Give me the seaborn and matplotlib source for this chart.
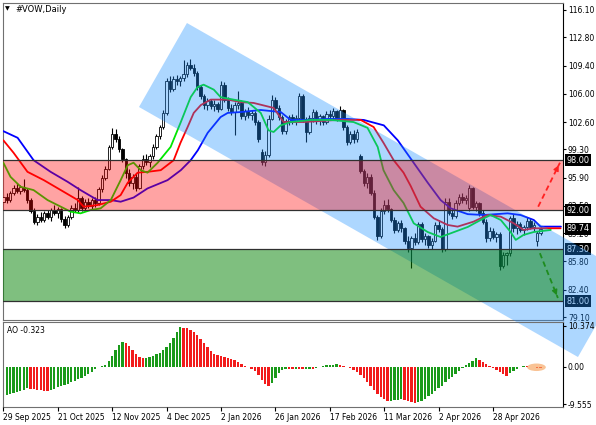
import numpy as np
import pandas as pd
import matplotlib
matplotlib.use("Agg")
import matplotlib.pyplot as plt
from matplotlib.patches import Polygon, Ellipse
import seaborn as sns

# ---------------- data ----------------
opens = [93.0, 93.6, 93.2, 94.1, 94.7, 94.3, 94.8, 94.4, 93.2, 91.9,
         90.6, 91.2, 90.8, 91.6, 91.1, 92.0, 91.7, 92.1, 90.9, 90.2,
         91.1, 92.3, 92.0, 93.4, 92.2, 93.0, 92.5, 93.2, 92.8, 94.5,
         95.9, 97.0, 99.6, 101.2, 100.6, 99.3, 98.1, 96.4, 95.3, 96.0,
         94.7, 97.3, 98.2, 97.8, 98.5, 99.6, 100.9, 102.0, 103.7, 107.5,
         106.6, 107.8, 107.5, 107.9, 108.4, 109.5, 109.1, 108.5, 106.8, 105.7,
         104.6, 105.1, 104.5, 104.8, 104.2, 107.1, 105.3, 104.3, 103.8, 104.6,
         104.9, 103.3, 103.9, 103.4, 103.7, 102.6, 99.0, 97.8, 98.6, 103.0,
         105.3, 104.3, 103.2, 101.5, 102.7, 103.2, 102.7, 103.1, 105.7, 102.9,
         101.4, 103.1, 103.8, 102.8, 103.3, 102.6, 103.6, 103.3, 103.9, 103.0,
         104.0, 102.0, 100.2, 101.2, 100.5, 98.5, 96.7, 95.2, 96.0, 94.1,
         91.2, 88.9, 91.9, 92.6, 92.1, 90.8, 89.6, 90.4, 89.8, 88.3,
         87.4, 88.6, 88.1, 90.3, 88.5, 88.9, 87.8, 88.3, 90.2, 89.7,
         87.3, 93.0, 91.7, 91.3, 92.9, 93.6, 93.2, 92.2, 94.6, 92.4,
         92.8, 91.6, 90.6, 88.6, 89.5, 88.8, 89.1, 85.3, 86.6, 86.8,
         91.0, 89.8, 90.3, 89.6, 89.9, 90.7, 90.0, 88.3, 89.2]
highs = [93.9, 94.0, 94.3, 95.0, 95.2, 95.0, 95.7, 94.6, 93.5, 92.3,
         91.5, 91.8, 91.9, 92.0, 92.3, 92.6, 92.4, 92.3, 91.3, 91.4,
         92.6, 92.9, 94.8, 93.7, 93.3, 93.4, 93.5, 93.6, 94.8, 96.2,
         97.3, 99.8, 101.9, 101.8, 100.9, 99.5, 98.3, 96.9, 96.3, 96.5,
         97.6, 98.6, 98.8, 98.7, 99.9, 101.2, 102.3, 104.0, 107.9, 108.2,
         108.1, 108.3, 108.1, 110.1, 109.8, 110.2, 109.6, 108.7, 107.1, 106.0,
         105.5, 105.4, 105.3, 105.0, 107.6, 107.4, 105.6, 104.8, 105.0, 106.3,
         105.2, 104.2, 104.4, 104.0, 103.9, 102.8, 99.3, 99.1, 103.4, 105.8,
         105.6, 104.6, 103.4, 103.0, 103.5, 103.6, 103.5, 106.1, 106.0, 103.2,
         103.4, 104.2, 104.0, 103.6, 103.5, 103.9, 104.1, 104.3, 104.1, 104.5,
         104.2, 102.3, 101.5, 101.6, 101.8, 98.8, 96.9, 96.4, 96.3, 94.4,
         91.4, 92.2, 93.2, 93.3, 92.3, 91.1, 90.7, 90.8, 90.0, 88.9,
         88.9, 89.2, 90.6, 90.5, 89.2, 89.0, 88.6, 90.6, 90.8, 89.9,
         93.5, 93.4, 92.1, 93.2, 93.9, 94.0, 93.8, 95.0, 94.8, 93.1,
         93.0, 92.0, 90.9, 89.9, 89.8, 89.4, 89.3, 86.9, 87.0, 91.3,
         91.5, 90.7, 90.6, 90.2, 91.1, 91.0, 90.5, 89.5, 90.0]
lows = [92.7, 92.9, 93.0, 93.8, 94.0, 93.9, 94.2, 92.9, 91.6, 90.3,
        90.2, 90.5, 90.6, 90.9, 90.7, 91.4, 91.0, 90.6, 89.8, 89.9,
        90.9, 91.8, 91.7, 91.9, 91.9, 92.3, 92.1, 92.4, 92.6, 94.2,
        95.6, 96.8, 99.3, 100.2, 99.0, 97.8, 95.9, 94.9, 94.5, 94.3,
        94.5, 96.9, 97.4, 97.2, 98.1, 99.3, 100.5, 101.8, 103.5, 106.2,
        106.3, 107.1, 107.0, 107.6, 108.0, 108.9, 108.2, 106.5, 105.4, 104.2,
        104.1, 104.2, 103.9, 103.8, 104.0, 105.0, 103.9, 103.4, 101.0, 104.2,
        103.0, 102.9, 103.1, 102.8, 102.3, 100.2, 97.4, 97.3, 98.4, 102.8,
        104.0, 102.9, 101.1, 101.2, 102.2, 102.4, 102.3, 102.8, 102.6, 100.2,
        101.2, 102.6, 102.4, 102.3, 102.2, 102.4, 103.0, 102.9, 102.7, 102.8,
        101.7, 99.8, 99.9, 100.1, 100.2, 96.4, 94.9, 94.6, 93.8, 90.9,
        88.4, 88.6, 91.5, 91.8, 90.5, 89.2, 89.3, 89.4, 87.9, 87.0,
        85.0, 87.8, 87.9, 88.2, 87.8, 87.4, 87.3, 88.1, 89.3, 86.9,
        87.1, 91.4, 90.9, 91.0, 92.6, 92.9, 92.7, 91.9, 92.1, 91.9,
        91.3, 90.3, 88.2, 88.3, 88.5, 88.1, 84.8, 85.0, 85.4, 86.5,
        89.4, 89.1, 89.3, 89.0, 89.6, 89.7, 89.5, 87.7, 89.0]
closes = [93.6, 93.2, 94.1, 94.7, 94.3, 94.8, 94.4, 93.2, 91.9, 90.6,
          91.2, 90.8, 91.6, 91.1, 92.0, 91.7, 92.1, 90.9, 90.2, 91.1,
          92.3, 92.0, 93.4, 92.2, 93.0, 92.5, 93.2, 92.8, 94.5, 95.9,
          97.0, 99.6, 101.2, 100.6, 99.3, 98.1, 96.4, 95.3, 96.0, 94.7,
          97.3, 98.2, 97.8, 98.5, 99.6, 100.9, 102.0, 103.7, 107.5, 106.6,
          107.8, 107.5, 107.9, 108.4, 109.5, 109.1, 108.5, 106.8, 105.7, 104.6,
          105.1, 104.5, 104.8, 104.2, 107.1, 105.3, 104.3, 103.8, 104.6, 104.9,
          103.3, 103.9, 103.4, 103.7, 102.6, 100.5, 97.8, 98.6, 103.0, 105.3,
          104.3, 103.2, 101.5, 102.7, 103.2, 102.7, 103.1, 105.7, 102.9, 101.4,
          103.1, 103.8, 102.8, 103.3, 102.6, 103.6, 103.3, 103.9, 103.0, 104.0,
          102.0, 100.2, 101.2, 100.5, 101.4, 96.7, 95.2, 96.0, 94.1, 91.2,
          88.9, 91.9, 92.6, 92.1, 90.8, 89.6, 90.4, 89.8, 88.3, 87.4,
          88.6, 88.1, 90.3, 88.5, 88.9, 87.8, 88.3, 90.2, 89.7, 87.3,
          93.0, 91.7, 91.3, 92.9, 93.6, 93.2, 93.5, 94.6, 92.4, 92.8,
          91.6, 90.6, 88.6, 89.5, 88.8, 89.1, 85.3, 86.6, 86.8, 91.0,
          89.8, 90.3, 89.6, 89.9, 90.7, 90.0, 90.2, 89.2, 89.74]

# Alligator lines: bar position, price
jaw_x = [0, 4.2, 8.9, 13.9, 18.9, 22.7, 27.7, 31.6, 34.5, 38.3, 42.4, 48.3, 52.2, 55.1,
         57.2, 60.1, 63.9, 66.0, 69.8, 75.7, 81.6, 84.5, 88.3, 95.4, 101.3, 106.0,
         111.9, 116.0, 119.8, 124.8, 128.6, 131.6, 136.6, 141.3, 148.3, 152.1, 156.0,
         158.0, 164.0]
jaw_y = [101.5, 100.7, 98.0, 96.6, 95.4, 94.4, 93.2, 93.2, 93.0, 93.5, 94.6, 95.6, 96.8, 98.0,
         99.2, 101.3, 103.2, 103.7, 103.8, 104.05, 103.8, 102.85, 102.85, 102.97, 102.97, 102.85,
         102.2, 100.4, 98.2, 95.3, 93.2, 92.2, 91.5, 91.4, 91.6, 91.4, 90.8,
         90.0, 90.0]
teeth_x = [0, 3.0, 7.1, 11.9, 16.9, 21.9, 23.6, 27.7, 31.6, 34.5, 36.6, 39.5, 42.4, 46.3,
           50.1, 52.1, 54.2, 56.0, 58.1, 61.0, 66.0, 69.8, 73.6, 79.5, 82.4, 88.3, 98.3,
           105.1, 108.9, 111.8, 114.8, 117.7, 119.8, 122.7, 126.6, 130.7, 133.6, 138.3,
           142.4, 146.3, 150.1, 153.0, 156.0, 163.9]
teeth_y = [100.4, 98.9, 96.6, 95.6, 94.4, 93.2, 92.4, 92.6, 93.0, 93.8, 95.3, 96.5, 96.6, 96.8,
           98.0, 100.1, 102.0, 103.7, 104.65, 105.3, 105.3, 105.0, 104.9, 104.3, 102.6, 102.6, 102.85,
           102.85, 102.0, 100.1, 98.0, 96.5, 94.9, 92.4, 91.0, 90.2, 90.0, 90.6,
           91.4, 91.2, 90.4, 89.6, 89.8, 89.8]
lips_x = [0, 2.1, 5.1, 8.9, 13.0, 16.9, 19.8, 22.7, 25.7, 28.6, 31.6, 34.5, 36.6, 38.3,
          40.4, 42.4, 45.4, 49.2, 52.1, 55.1, 57.1, 58.9, 61.9, 63.9, 67.7, 71.9, 75.7,
          78.0, 79.5, 81.6, 84.5, 90.4, 96.3, 103.0, 107.1, 110.1, 111.8, 114.8, 117.7,
          120.7, 124.8, 128.6, 131.6, 136.6, 140.4, 143.3, 146.3, 149.2, 150.7, 153.0,
          156.0, 161.0]
lips_y = [97.7, 96.0, 94.8, 94.4, 93.2, 92.4, 91.8, 91.6, 92.0, 92.2, 93.2, 95.6, 97.4, 97.7,
          96.8, 96.5, 97.7, 99.6, 102.5, 105.6, 106.8, 107.1, 106.5, 105.6, 105.3, 105.0, 103.7,
          101.6, 101.4, 102.2, 102.6, 102.85, 102.85, 102.6, 101.9, 99.6, 96.8, 94.4, 92.85,
          90.4, 89.35, 88.75, 89.2, 89.96, 90.8, 91.4, 90.8, 89.35, 88.4, 89.0,
          89.35, 89.6]

ao_values = [-7.2, -7.1, -6.9, -6.7, -6.5, -6.2, -5.8, -5.5,
             -5.6, -5.7, -5.8, -6.0, -6.1, -6.2,
             -5.9, -5.6, -5.2, -4.9, -4.6, -4.3, -4.0, -3.6, -3.2, -2.8, -2.4, -1.9, -1.3, -0.7, -0.2, 0.2, 0.5,
             1.4, 2.8, 4.2, 5.4, 6.2,
             6.0, 5.2, 4.1, 3.2, 2.5, 2.2,
             2.3, 2.5, 2.8, 3.1, 3.5, 4.1, 4.9, 5.9, 7.3, 8.7, 10.0,
             9.9, 9.7, 9.3, 8.7, 7.9, 7.0, 6.0, 5.0, 4.0, 3.3, 2.9, 2.7, 2.5, 2.3, 2.0, 1.6, 1.1, 0.6, 0.2,
             -0.2, -0.5, -1.2, -2.2, -3.4, -4.4, -4.9,
             -4.1, -2.9, -1.7, -0.8,
             -0.5, -0.6, -0.7, -0.5, -0.6,
             -0.7, -0.6, -0.5, -0.6, -0.4, -0.2,
             0.1, 0.3, 0.4, 0.5, 0.6, 0.5, 0.2,
             -0.1, -0.4, -0.8, -1.3, -2.0, -2.9, -3.9, -5.0, -6.0, -6.9, -7.7, -8.3, -8.7,
             -8.6, -8.5, -8.4, -8.3,
             -8.5, -8.8, -9.0, -9.2,
             -9.0, -8.6, -8.1, -7.5, -6.9, -6.2, -5.5, -4.8, -4.0, -3.2, -2.5, -1.8, -1.1, -0.4,
             0.3, 0.9, 1.5, 2.1,
             1.8, 1.2, 0.6, 0.1,
             -0.4, -0.9, -1.4, -1.9, -2.4,
             -1.7, -1.0, -0.5, -0.1,
             0.2, 0.1,
             -0.1, -0.2, -0.3, -0.323]

price_ticks = [116.10, 112.80, 109.40, 106.00, 102.60, 99.30, 95.90, 92.50, 89.20, 85.80, 82.40, 79.10]
date_tick_pos = [0, 16, 32, 48, 64, 80, 96, 112, 128, 144]
date_labels = ["29 Sep 2025", "21 Oct 2025", "12 Nov 2025", "4 Dec 2025", "2 Jan 2026",
               "26 Jan 2026", "17 Feb 2026", "11 Mar 2026", "2 Apr 2026", "28 Apr 2026"]
level_upper_zone = (92.00, 98.00)
level_lower_zone = (81.00, 87.30)
current_price = 89.74
ao_ticks = [10.374, 0.00, -9.555]
ao_tick_labels = ["10.374", "0.00", "-9.555"]
# channel corners (bar position, price)
channel_x = [39.9, 54.0, 183.1, 169.0]
channel_y = [104.41, 114.53, 84.41, 74.29]
# scenario arrows (bar position, price)
up_arrow = [(157.3, 92.4), (163.7, 97.7)]
down_arrow = [(157.8, 86.8), (163.1, 81.4)]

# ---------------- style ----------------
sns.set_theme(style="white")
plt.rcParams["font.family"] = ["DejaVu Sans"]
plt.rcParams["axes.axisbelow"] = False
FS = 5.5

W, H = 596, 425
fig = plt.figure(figsize=(W / 100, H / 100), dpi=100, facecolor="white")

def fx(px):
    return px / W

def fy(py):
    return 1 - py / H

ax = fig.add_axes([fx(3), fy(320), fx(560), (320 - 3) / H])
ax_ao = fig.add_axes([fx(3), fy(407), fx(560), (407 - 322) / H])
ax_ao.set_facecolor("none")
ax.set_facecolor("white")

n = len(closes)
idx = np.arange(n)
o = np.array(opens); c = np.array(closes); hi = np.array(highs); lo = np.array(lows)
up = c >= o

# candles
ax.vlines(idx, lo, hi, color="black", lw=0.8, zorder=2)
body_bottom = np.minimum(o, c)
body_h = np.maximum(np.abs(c - o), 0.12)
ax.bar(idx, body_h, bottom=body_bottom, width=0.7,
       color=np.where(up, "white", "black"), edgecolor="black", linewidth=0.6, zorder=3)

# alligator lines
for xs, ys, col in [(jaw_x, jaw_y, "#0000FF"), (teeth_x, teeth_y, "#FF0000"), (lips_x, lips_y, "#00E600")]:
    df = pd.DataFrame({"bar": xs, "price": ys})
    sns.lineplot(data=df, x="bar", y="price", ax=ax, color=col, lw=1.3, zorder=3.5,
                 legend=False, sort=False)

# channel
chan = Polygon(list(zip(channel_x, channel_y)), closed=True, facecolor="#1E90FF",
               alpha=0.36, edgecolor="none", zorder=4, clip_on=False)
ax.add_patch(chan)

# zones
ax.axhspan(*level_upper_zone, color="#FF0000", alpha=0.36, lw=0, zorder=5)
ax.axhspan(*level_lower_zone, color="#008000", alpha=0.5, lw=0, zorder=5)
for lv in [level_upper_zone[1], level_upper_zone[0], level_lower_zone[1], level_lower_zone[0]]:
    ax.axhline(lv, color="#303030", lw=0.9, zorder=6)

# arrows
for (p0, p1), col in [(up_arrow, "#FF2020"), (down_arrow, "#1E8C1E")]:
    ax.plot([p0[0], p1[0]], [p0[1], p1[1]], color=col, lw=1.3, ls=(0, (3, 2)),
            zorder=7, clip_on=False)
    dx, dy = p1[0] - p0[0], p1[1] - p0[1]
    ax.annotate("", xy=p1, xytext=(p1[0] - 0.2 * dx, p1[1] - 0.2 * dy),
                arrowprops=dict(arrowstyle="-|>", color=col, lw=1.0, mutation_scale=8),
                zorder=7, annotation_clip=False)

ax.set_xlim(-0.1, 164.6)
ax.set_ylim(78.75, 116.94)
ax.set_xticks([])
ax.yaxis.tick_right()
ax.set_yticks(price_ticks)
ax.set_yticklabels([f"{v:.2f}" for v in price_ticks])
ax.tick_params(axis="y", right=True, length=2.5, width=0.8, pad=1.0, labelsize=FS,
               colors="black", direction="out")
ax.set_xlabel(""); ax.set_ylabel("")
for s in ["left", "top", "bottom"]:
    ax.spines[s].set_color("#707070"); ax.spines[s].set_linewidth(0.8)
ax.spines["right"].set_color("black"); ax.spines["right"].set_linewidth(0.8)

# boxed price labels
ytr = ax.get_yaxis_transform()
for val, z in [(98.00, 8), (92.00, 8), (current_price, 8), (87.30, 3.9), (81.00, 3.9)]:
    ax.text(1.006, val, f"{val:.2f}", transform=ytr, ha="left", va="center", fontsize=FS + 0.4,
            color="white", zorder=z, clip_on=False,
            bbox=dict(boxstyle="square,pad=0.2", fc="black", ec="none"))

# title
fig.text(fx(5), fy(9), "\u25BC", fontsize=4.5, va="center", ha="left", color="black")
fig.text(fx(15), fy(9), "#VOW,Daily", fontsize=6.0, va="center", ha="left", color="black")

# AO panel
ao = np.array(ao_values)
ao_cols = ["#1A9A1A"] + ["#1A9A1A" if ao[k] > ao[k - 1] else "#F21B1B" for k in range(1, len(ao))]
ax_ao.bar(np.arange(len(ao)), ao, width=0.68, color=ao_cols, lw=0, zorder=2)
ax_ao.add_patch(Ellipse((156.8, -0.15), width=5.5, height=1.9, facecolor="#F7A35C",
                        alpha=0.65, edgecolor="none", zorder=3))
ax_ao.set_xlim(-0.1, 164.6)
ax_ao.set_ylim(-10.2, 11.3)
ax_ao.yaxis.tick_right()
ax_ao.set_yticks(ao_ticks)
ax_ao.set_yticklabels(ao_tick_labels)
ax_ao.set_xticks(date_tick_pos)
ax_ao.set_xticklabels(date_labels, ha="left")
ax_ao.tick_params(axis="y", right=True, length=2.5, width=0.8, pad=1.0, labelsize=FS, colors="black")
ax_ao.tick_params(axis="x", bottom=True, length=3, width=0.8, pad=1.5, labelsize=FS, colors="black")
ax_ao.set_xlabel(""); ax_ao.set_ylabel("")
for s in ["left", "top", "bottom"]:
    ax_ao.spines[s].set_color("#707070"); ax_ao.spines[s].set_linewidth(0.8)
ax_ao.spines["right"].set_color("black"); ax_ao.spines["right"].set_linewidth(0.8)
ax_ao.text(0.008, 0.9, f"AO {ao_values[-1]:.3f}", transform=ax_ao.transAxes, fontsize=FS,
           ha="left", va="center", color="black")

fig.savefig("out.png", dpi=100, facecolor="white")
